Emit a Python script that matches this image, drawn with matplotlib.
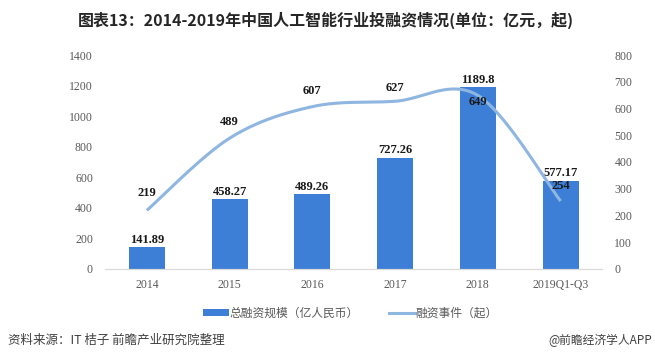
import numpy as np
import matplotlib
matplotlib.use('Agg')
import matplotlib.pyplot as plt
from matplotlib.patches import Patch
from matplotlib.lines import Line2D

plt.rcParams['font.family'] = ['Noto Sans CJK SC', 'DejaVu Sans']

# Data
years = ['2014', '2015', '2016', '2017', '2018', '2019Q1-Q3']
amount = [141.89, 458.27, 489.26, 727.26, 1189.8, 577.17]   # 总融资规模（亿人民币）
events = [219, 489, 607, 627, 649, 254]                       # 融资事件（起）
amount_labels = ['141.89', '458.27', '489.26', '727.26', '1189.8', '577.17']

bar_col = '#3d7fd6'
line_col = '#8fb6e0'
tick_col = '#595959'
serif = 'Liberation Serif'


def smooth(xs, ys, n=40):
    # Catmull-Rom smoothing, like the spreadsheet "smoothed line"
    xs = np.asarray(xs, float)
    ys = np.asarray(ys, float)
    px = np.concatenate([[xs[0]], xs, [xs[-1]]])
    py = np.concatenate([[ys[0]], ys, [ys[-1]]])
    outx, outy = [], []
    for i in range(1, len(px) - 2):
        t = np.linspace(0, 1, n)
        mx0 = (px[i + 1] - px[i - 1]) / 2
        mx1 = (px[i + 2] - px[i]) / 2
        my0 = (py[i + 1] - py[i - 1]) / 2
        my1 = (py[i + 2] - py[i]) / 2
        h00 = 2 * t**3 - 3 * t**2 + 1
        h10 = t**3 - 2 * t**2 + t
        h01 = -2 * t**3 + 3 * t**2
        h11 = t**3 - t**2
        outx.append(h00 * px[i] + h10 * mx0 + h01 * px[i + 1] + h11 * mx1)
        outy.append(h00 * py[i] + h10 * my0 + h01 * py[i + 1] + h11 * my1)
    return np.concatenate(outx), np.concatenate(outy)


fig = plt.figure(figsize=(6.55, 3.6), dpi=100)
ax = fig.add_axes([0.161, 0.2528, 0.758, 0.5944])
ax2 = ax.twinx()

x = np.arange(len(years))
ax.bar(x, amount, width=0.434, color=bar_col, zorder=2)
ax.set_xlim(-0.5, len(years) - 0.5)
ax.set_ylim(0, 1400)
ax.set_yticks(np.arange(0, 1401, 200))
ax.set_xticks(x)
ax.set_xticklabels(years)

for xi, v, lab in zip(x, amount, amount_labels):
    ax.annotate(lab, (xi, v), xytext=(0, 1), textcoords='offset points',
                ha='center', va='bottom', fontsize=9, fontweight='bold',
                family=serif, color='#1a1a1a', zorder=5)

sx, sy = smooth(x, events)
ax2.plot(sx, sy, color=line_col, lw=2.2, solid_capstyle='butt', zorder=3)
ax2.set_ylim(0, 800)
ax2.set_yticks(np.arange(0, 801, 100))

offsets = [12.5, 11.5, 11.5, 9.5, -5, 11]
for xi, v, off in zip(x, events, offsets):
    ax2.annotate(str(v), (xi, v), xytext=(0, off), textcoords='offset points',
                 ha='center', va='center', fontsize=9, fontweight='bold',
                 family=serif, color='#1a1a1a', zorder=5)

for a in (ax, ax2):
    for s in ('top', 'left', 'right'):
        a.spines[s].set_visible(False)
    a.spines['bottom'].set_color('#d9d9d9')
    a.tick_params(length=0, labelsize=8.5, labelcolor=tick_col)
    for t in a.get_yticklabels() + a.get_xticklabels():
        t.set_family(serif)
ax.tick_params(axis='y', pad=9)
ax2.tick_params(axis='y', pad=9)
ax.tick_params(axis='x', pad=7)

# Legend
handles = [Patch(facecolor=bar_col, edgecolor='none'),
           Line2D([0], [0], color=line_col, lw=2.2)]
fig.legend(handles, ['总融资规模（亿人民币）', '融资事件（起）'],
           loc='center', bbox_to_anchor=(0.535, 0.13), ncol=2, frameon=False,
           fontsize=8.5, labelcolor=tick_col, handlelength=2.2, handleheight=0.5,
           handletextpad=0.1, columnspacing=2.5)

# Title and footer
fig.text(0.498, 0.944, '图表13：2014-2019年中国人工智能行业投融资情况(单位：亿元，起)',
         ha='center', va='center', fontsize=11.5, fontweight='bold', color='#262626')
fig.text(0.012, 0.055, '资料来源：IT 桔子 前瞻产业研究院整理', ha='left', va='center',
         fontsize=9, color='#404040')
fig.text(0.995, 0.055, '@前瞻经济学人APP', ha='right', va='center',
         fontsize=8.5, color='#404040')

fig.savefig('out.png', dpi=100)
